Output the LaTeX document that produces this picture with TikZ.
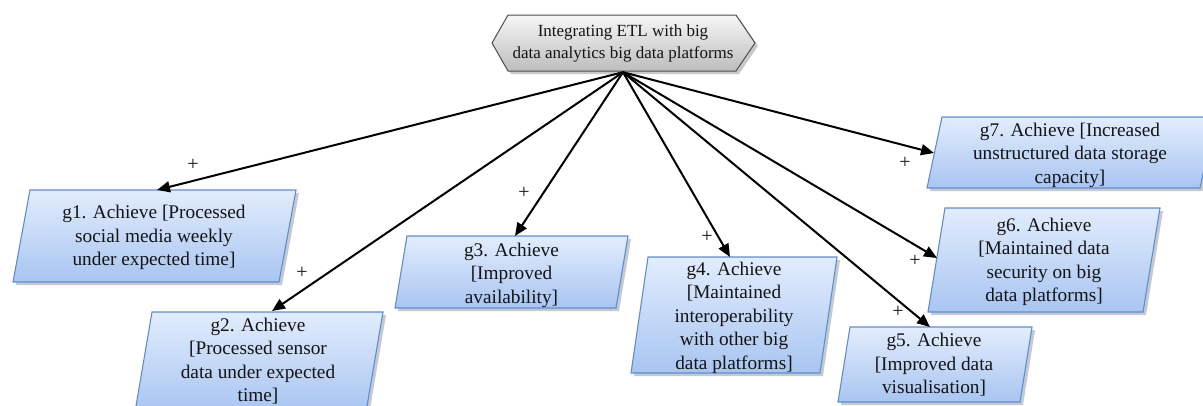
\documentclass[tikz,border=0pt]{standalone}
\usepackage{fontspec}
\setmainfont{Liberation Serif}
\usetikzlibrary{arrows.meta,shadows}

\definecolor{goaltop}{HTML}{E2EDFD}
\definecolor{goalbot}{HTML}{A8C5F1}
\definecolor{goaledge}{HTML}{5C8DD6}
\definecolor{roottop}{HTML}{F6F6F6}
\definecolor{rootbot}{HTML}{BDBDBD}
\definecolor{rootedge}{HTML}{4D4D4D}
\definecolor{inktext}{HTML}{141414}

\tikzset{
  softshadow/.style={drop shadow={shadow xshift=3pt, shadow yshift=-3pt, opacity=0.3, fill=black!70}},
  goalshape/.style={draw=goaledge, line width=1.1pt, top color=goaltop, bottom color=goalbot, softshadow},
  rootshape/.style={draw=rootedge, line width=1pt, top color=roottop, bottom color=rootbot, softshadow},
  goaltext/.style={align=center, text=inktext, font=\fontsize{19.3}{23.5}\selectfont, inner sep=0pt},
  roottext/.style={align=center, text=inktext, font=\fontsize{17}{22}\selectfont,
                   minimum width=263pt, minimum height=58pt, inner sep=0pt},
  link/.style={line width=2pt, -{Triangle[length=13pt,width=11pt]}},
  plussign/.style={font=\fontsize{20}{20}\selectfont, inner sep=0pt, text=inktext}
}

\begin{document}
\begin{tikzpicture}[x=1pt, y=-1pt]
\useasboundingbox (0,0) rectangle (1203,405);

% root goal (hexagon)
\draw[rootshape] (492,43) -- (508,15) -- (736,15) -- (755,43) -- (736,71) -- (508,71) -- cycle;
\node[roottext] (top) at (623,43) {Integrating ETL with big\\data analytics big data platforms};

% sub-goals (parallelograms)
\draw[goalshape] (30,190) -- (296,190) -- (279,282) -- (13,282) -- cycle;
\node[goaltext] (g1) at (154,237.5) {g1. Achieve {[}Processed\\social media weekly\\under expected time{]}};

\draw[goalshape] (152,312) -- (383,312) -- (366,412) -- (135,412) -- cycle;
\node[goaltext] (g2) at (258,361) {g2. Achieve\\{[}Processed sensor\\data under expected\\time{]}};

\draw[goalshape] (407,236) -- (628,236) -- (616,308) -- (395,308) -- cycle;
\node[goaltext] (g3) at (511.5,275) {g3. Achieve\\{[}Improved\\availability{]}};

\draw[goalshape] (648,257) -- (837,257) -- (820,373) -- (631,373) -- cycle;
\node[goaltext] (g4) at (734,317.5) {g4. Achieve\\{[}Maintained\\interoperability\\with other big\\data platforms{]}};

\draw[goalshape] (850,327) -- (1032,327) -- (1020,402) -- (838,402) -- cycle;
\node[goaltext] (g5) at (934,365) {g5. Achieve\\{[}Improved data\\visualisation{]}};

\draw[goalshape] (945,208) -- (1160,208) -- (1143,312) -- (928,312) -- cycle;
\node[goaltext] (g6) at (1044,262) {g6. Achieve\\{[}Maintained data\\security on big\\data platforms{]}};

\draw[goalshape] (942,117) -- (1215,117) -- (1200,188) -- (927,188) -- cycle;
\node[goaltext] (g7) at (1070,155) {g7. Achieve {[}Increased\\unstructured data storage\\capacity{]}};

% arrow end points on the goal outlines
\coordinate (t1) at (157,190);
\coordinate (t2) at (272,311);
\coordinate (t3) at (515,236);
\coordinate (t4) at (730,257);
\coordinate (t5) at (930,327);
\coordinate (t6) at (937,258);
\coordinate (t7) at (934,153);

% contribution links
\foreach \t in {t1,t2,t3,t4,t5,t6,t7}
  \draw[link] (top.south) -- (\t);

% contribution labels
\node[plussign] (p1) at (193,165) {+};
\node[plussign] (p2) at (302,273) {+};
\node[plussign] (p3) at (524,193) {+};
\node[plussign] (p4) at (707,237) {+};
\node[plussign] (p5) at (898,312) {+};
\node[plussign] (p6) at (915,261) {+};
\node[plussign] (p7) at (905,163) {+};
\end{tikzpicture}
\end{document}
